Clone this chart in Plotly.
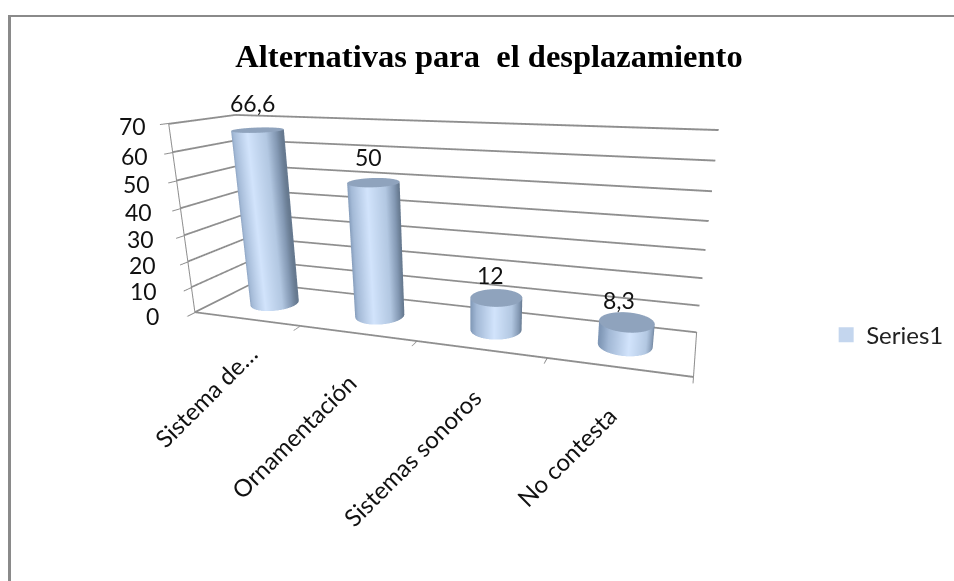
import numpy as np
import plotly.graph_objects as go

categories = ["Sistema de…", "Ornamentación", "Sistemas sonoros", "No contesta"]
values = [66.6, 50, 12, 8.3]
value_labels = ["66,6", "50", "12", "8,3"]
z_ticks = [0, 10, 20, 30, 40, 50, 60, 70]
series_name = "Series1"
title = "Alternativas para\u00a0\u00a0el desplazamiento"

GRAY = "#8f8f8f"
FONT = "Lato"
eye = np.array([1.2481, -3.1781, 0.8405])
center = np.array([0.2308, -0.0266, -0.2919])
aspect = dict(x=2.5894, y=0.5349, z=1)
value_dx, value_dy = [-5, -5, -6, -8], [11, 9, 7, 6]
label_dx, label_dy = [20, 7, 9, 7], [-17, -32, -30, -31]

view = eye - center
right = np.array([-view[1], view[0]])
right = right / np.linalg.norm(right)

theta = np.linspace(0, 2 * np.pi, 121)
rx, ry = 0.2, 0.25
shade = [[0, "#7f97b6"], [0.12, "#a3b9d6"], [0.45, "#d2e4fc"], [0.78, "#b3c8e2"], [0.93, "#8398b3"], [1, "#66798f"]]
light = dict(ambient=1, diffuse=0, specular=0, roughness=1, fresnel=0)

fig = go.Figure()
for z in z_ticks:
    for dz in ((0, 0.3) if z < 70 else (0, -0.3)):
        fig.add_trace(go.Scatter3d(x=[0, 0, 4], y=[0, 1, 1], z=[z + dz] * 3, mode="lines",
                                   line=dict(color=GRAY, width=2), hoverinfo="skip", showlegend=False))
for dz in (0, 0.3):
    fig.add_trace(go.Scatter3d(x=[0, 0, 4, 4], y=[0, 0, 0, 1], z=[70, dz, dz, dz], mode="lines",
                               line=dict(color=GRAY, width=2), hoverinfo="skip", showlegend=False))

for i, v in enumerate(values):
    cx = i + 0.5
    X = np.array([cx + rx * np.cos(theta)] * 2)
    Y = np.array([0.5 + ry * np.sin(theta)] * 2)
    Z = np.array([np.zeros_like(theta), np.full_like(theta, v)])
    t = np.cos(theta) * rx * aspect["x"] / 4 * right[0] + np.sin(theta) * ry * aspect["y"] * right[1]
    t = (t - t.min()) / (t.max() - t.min())
    fig.add_trace(go.Surface(x=X, y=Y, z=Z, surfacecolor=np.array([t, t]), cmin=0, cmax=1,
                             colorscale=shade, showscale=False, lighting=light, hoverinfo="skip",
                             showlegend=False))
    rr = np.array([0, 1.0])[:, None]
    fig.add_trace(go.Surface(x=cx + rr * rx * np.cos(theta), y=0.5 + rr * ry * np.sin(theta),
                             z=np.full((2, theta.size), float(v)), surfacecolor=np.zeros((2, theta.size)),
                             cmin=0, cmax=1, colorscale=[[0, "#8fa3bd"], [1, "#8fa3bd"]], showscale=False,
                             lighting=light, hoverinfo="skip", showlegend=False))

fig.add_trace(go.Scatter3d(x=[None], y=[None], z=[None], mode="markers", name=series_name,
                           marker=dict(symbol="square", size=15, color="#c4d6ee"), showlegend=True))

annos = []
for i, v in enumerate(values):
    annos.append(dict(x=i + 0.5, y=0.5, z=v, text=value_labels[i], showarrow=False, yanchor="bottom",
                      xshift=value_dx[i], yshift=value_dy[i], font=dict(family=FONT, size=23, color="#111")))
    annos.append(dict(x=i + 0.5, y=0, z=0, text=categories[i], showarrow=False, textangle=-45,
                      xanchor="right", yanchor="top", xshift=label_dx[i], yshift=label_dy[i],
                      font=dict(family=FONT, size=24, color="#111")))
for z in z_ticks:
    annos.append(dict(x=0, y=0, z=z, text=str(z), showarrow=False, xanchor="right", yanchor="middle",
                      xshift=-34 + 13 * z / 70, yshift=-3, font=dict(family=FONT, size=23, color="#111")))

def ax(**kw):
    return dict(showbackground=False, showspikes=False, showgrid=False, showline=False,
                zeroline=False, showticklabels=False, title=dict(text=""), **kw)

fig.update_layout(
    width=954, height=581,
    margin=dict(l=0, r=0, t=0, b=0), paper_bgcolor="white",
    title=dict(text=title, x=0.5126, xanchor="center", y=0.905, yanchor="middle",
               font=dict(family="Liberation Serif", size=32.5, color="black", weight="bold")),
    legend=dict(x=0.866, y=0.423, xanchor="left", yanchor="middle", font=dict(family=FONT, size=24, color="#222"),
                bgcolor="rgba(0,0,0,0)"),
    scene=dict(
        domain=dict(x=[0, 1], y=[0, 1]),
        aspectmode="manual", aspectratio=aspect,
        camera=dict(eye=dict(x=eye[0], y=eye[1], z=eye[2]), center=dict(x=center[0], y=center[1], z=center[2]),
                    up=dict(x=0, y=0, z=1), projection=dict(type="perspective")),
        xaxis=ax(range=[0, 4], tickvals=[0, 1, 2, 3, 4], ticks="outside", ticklen=8, tickcolor=GRAY, tickwidth=2),
        yaxis=ax(range=[0, 1], ticks="", tickvals=[]),
        zaxis=ax(range=[0, 70], tickvals=z_ticks, ticks="outside", ticklen=8, tickcolor=GRAY, tickwidth=2),
        annotations=annos,
    ),
    shapes=[dict(type="line", xref="paper", yref="paper", x0=9.5 / 954, x1=1, y0=1 - 16 / 581, y1=1 - 16 / 581,
                 line=dict(color="#8a8a8a", width=2)),
            dict(type="line", xref="paper", yref="paper", x0=9.5 / 954, x1=9.5 / 954, y0=0, y1=1 - 15 / 581,
                 line=dict(color="#8a8a8a", width=3))],
)
fig.write_html("out.html", config=dict(displayModeBar=False),
               post_script="document.body.style.margin='0';document.body.style.overflow='hidden';")
